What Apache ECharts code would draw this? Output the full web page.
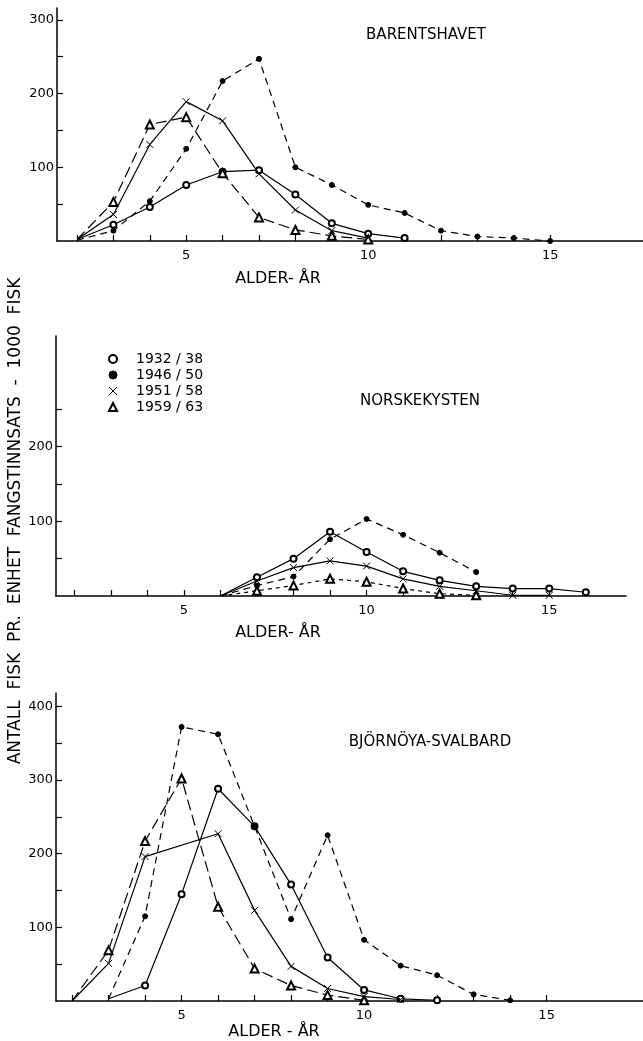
<!DOCTYPE html>
<html>
<head>
<meta charset="utf-8">
<title>Antall fisk pr. enhet fangstinnsats</title>
<script src="https://cdn.jsdelivr.net/npm/echarts@6/dist/echarts.min.js"></script>
<style>
  html, body { margin: 0; padding: 0; background: #fff; }
  #chart { width: 643px; height: 1041px; }
</style>
</head>
<body>
<div id="chart"></div>
<script>
const chart = echarts.init(document.getElementById('chart'));

const PERIODS = ['1932 / 38', '1946 / 50', '1951 / 58', '1959 / 63'];
const AGE_TICKS = [2, 3, 4, 5, 6, 7, 8, 9, 10, 11, 12, 13, 14, 15];
const AGE_LABELS = [5, 10, 15];

// Barentshavet: first value is at the start age, one value per year after that
const barentsStart = [2, 2, 2, 2];
const barents1932 = [2, 22, 46, 76, 94, 96, 63, 24, 10, 4];
const barents1946 = [1, 14, 54, 125, 217, 247, 100, 76, 49, 38, 14, 6, 4, 0];
const barents1951 = [2, 36, 131, 189, 163, 91, 42, 14, 4];
const barents1959 = [2, 53, 158, 168, 92, 32, 15, 7, 2];

// Norskekysten
const norskeStart = [6, 6, 6, 6];
const norske1932 = [0, 25, 50, 86, 59, 33, 21, 13, 10, 10, 5];
const norske1946 = [0, 14, 26, 76, 103, 82, 58, 32];
const norske1951 = [0, 20, 38, 47, 40, 23, 13, 7, 1, 1];
const norske1959 = [0, 7, 14, 23, 19, 10, 3, 1];

// Björnöya-Svalbard (null = no point at that age)
const bjornStart = [3, 3, 2, 2];
const bjorn1932 = [3, 21, 145, 288, 237, 158, 59, 15, 3, 1];
const bjorn1946 = [3, 115, 372, 362, 237, 111, 225, 83, 48, 35, 9, 1];
const bjorn1951 = [0, 51, 196, null, 227, 123, 47, 17, 6, 2];
const bjorn1959 = [0, 69, 217, 302, 128, 44, 21, 8, 1];

const FONT = '"DejaVu Sans", sans-serif';
const CROSS = 'path://M0,0L10,10M10,0L0,10';

const STYLES = [
  { symbol: 'emptyCircle', size: 6, dash: 'solid' },
  { symbol: 'circle', size: 5, dash: [7, 5] },
  { symbol: CROSS, size: 7, dash: 'solid' },
  { symbol: 'emptyTriangle', size: 8, dash: [11, 5] }
];

const PANELS = [
  {
    grid: { left: 57, right: 0, top: 8, height: 233 },
    xMin: 1.45, xMax: 17.55, yMax: 316,
    yTicks: [50, 100, 150, 200, 250, 300], yLabels: [100, 200, 300],
    start: barentsStart,
    values: [barents1932, barents1946, barents1951, barents1959]
  },
  {
    grid: { left: 56, right: 17, top: 336, height: 260 },
    xMin: 1.5, xMax: 17.1, yMax: 348,
    yTicks: [50, 100, 150, 200, 250], yLabels: [100, 200],
    start: norskeStart,
    values: [norske1932, norske1946, norske1951, norske1959],
    triDash: [4, 4]
  },
  {
    grid: { left: 56, right: 0, top: 693, height: 308 },
    xMin: 1.56, xMax: 17.64, yMax: 418,
    yTicks: [50, 100, 150, 200, 250, 300, 350, 400], yLabels: [100, 200, 300, 400],
    start: bjornStart,
    values: [bjorn1932, bjorn1946, bjorn1951, bjorn1959]
  }
];

function points(start, values) {
  const out = [];
  values.forEach((v, i) => {
    if (v == null) return;
    const item = { value: [start + i, v] };
    if (i === 0) item.symbol = 'none';
    out.push(item);
  });
  return out;
}

const axisLine = { show: true, onZero: false, lineStyle: { color: '#000', width: 1.5 } };
const tickStyle = { color: '#000', width: 1.2 };
const labelStyle = { color: '#000', fontSize: 13, fontFamily: FONT };

const grids = [];
const xAxes = [];
const yAxes = [];
const series = [];

PANELS.forEach((p, k) => {
  grids.push(Object.assign({ containLabel: false, outerBoundsMode: 'none' }, p.grid));
  xAxes.push({
    gridIndex: k, type: 'value', min: p.xMin, max: p.xMax,
    axisLine: axisLine,
    axisTick: { show: true, inside: true, length: 6, customValues: AGE_TICKS, lineStyle: tickStyle },
    axisLabel: Object.assign({ customValues: AGE_LABELS, margin: 8 }, labelStyle),
    splitLine: { show: false }
  });
  yAxes.push({
    gridIndex: k, type: 'value', min: 0, max: p.yMax,
    axisLine: axisLine,
    axisTick: { show: true, inside: true, length: 6, customValues: p.yTicks, lineStyle: tickStyle },
    axisLabel: Object.assign({ customValues: p.yLabels, margin: 3 }, labelStyle),
    splitLine: { show: false }
  });
  PERIODS.forEach((name, s) => {
    const st = STYLES[s];
    const dash = s === 3 && p.triDash ? p.triDash : st.dash;
    series.push({
      name: name,
      type: 'line',
      xAxisIndex: k,
      yAxisIndex: k,
      data: points(p.start[s], p.values[s]),
      symbol: st.symbol,
      symbolSize: st.size,
      showAllSymbol: true,
      lineStyle: { color: '#000', width: 1.2, type: dash },
      itemStyle: { color: '#000', borderColor: '#000', borderWidth: 1 },
      emphasis: { disabled: true },
      z: 3 + s
    });
  });
});

function text(str, x, y, size, rotation) {
  return {
    type: 'text',
    x: x,
    y: y,
    rotation: rotation || 0,
    style: {
      text: str,
      font: size + 'px ' + FONT,
      fill: '#000',
      align: 'center',
      verticalAlign: 'middle',
      textAlign: 'center',
      textVerticalAlign: 'middle'
    }
  };
}

chart.setOption({
  animation: false,
  backgroundColor: '#fff',
  grid: grids,
  xAxis: xAxes,
  yAxis: yAxes,
  legend: {
    orient: 'vertical',
    left: 108,
    top: 352,
    padding: 0,
    itemWidth: 8,
    itemHeight: 8,
    itemGap: 2,
    selectedMode: false,
    data: [
      { name: PERIODS[0], icon: 'emptyCircle' },
      { name: PERIODS[1], icon: 'circle' },
      { name: PERIODS[2], icon: CROSS },
      { name: PERIODS[3], icon: 'emptyTriangle' }
    ],
    lineStyle: { width: 0, opacity: 0 },
    itemStyle: { borderColor: '#000', borderWidth: 1 },
    textStyle: { color: '#000', fontSize: 14, fontFamily: FONT, padding: [0, 0, 0, 14] }
  },
  graphic: [
    text('BARENTSHAVET', 426, 35, 15),
    text('NORSKEKYSTEN', 420, 401, 15),
    text('BJÖRNÖYA-SVALBARD', 430, 742, 15),
    text('ALDER- ÅR', 278, 279, 16),
    text('ALDER- ÅR', 278, 633, 16),
    text('ALDER - ÅR', 274, 1032, 16),
    text('ANTALL  FISK  PR.  ENHET  FANGSTINNSATS  -  1000  FISK', 16, 521, 17, Math.PI / 2)
  ],
  series: series
});
</script>
</body>
</html>
